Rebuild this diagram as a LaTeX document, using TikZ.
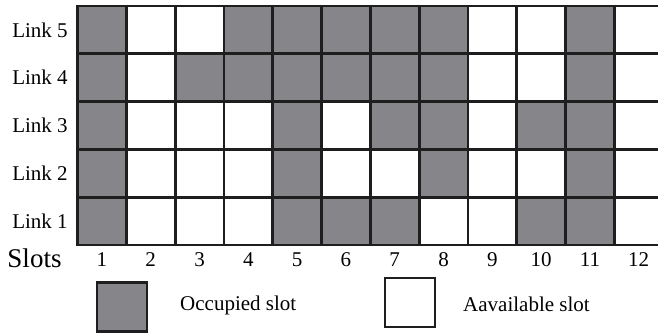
\documentclass[tikz,border=0pt]{standalone}
\usepackage{fontspec}
\setmainfont{Liberation Serif}
\definecolor{occ}{RGB}{134,134,138}
\definecolor{lin}{RGB}{30,30,30}
\begin{document}
\begin{tikzpicture}[x=1pt,y=-1pt,
  cell/.style={draw=lin, line width=2.8pt, minimum width=48.8pt, minimum height=47.8pt, inner sep=0pt, outer sep=0pt},
  occupied/.style={cell, fill=occ},
  freecell/.style={cell, fill=white},
  lbl/.style={font=\fontsize{21}{24}\selectfont, inner sep=0pt},
  biglbl/.style={font=\fontsize{27}{30}\selectfont, inner sep=0pt},
  legbox/.style={draw=lin, line width=2.8pt, minimum width=50pt, minimum height=49pt, inner sep=0pt}]
\useasboundingbox (0,0) rectangle (658,334);
\clip (0,0) rectangle (658,334);
\fill[white] (0,0) rectangle (658,334);
\foreach \r/\pat in {5/{1,0,0,1,1,1,1,1,0,0,1,0},
                     4/{1,0,1,1,1,1,1,1,0,0,1,0},
                     3/{1,0,0,0,1,0,1,1,0,1,1,0},
                     2/{1,0,0,0,1,0,0,1,0,0,1,0},
                     1/{1,0,0,0,1,1,1,0,0,1,1,0}} {
  \node[lbl] (link\r) at (40, {6+(5-\r+0.5)*47.8}) {Link \r};
  \foreach \v [count=\c] in \pat {
    \ifnum\v=1
      \node[occupied] (cell-\r-\c) at ({77.5+(\c-0.5)*48.8}, {6+(5-\r+0.5)*47.8}) {};
    \else
      \node[freecell] (cell-\r-\c) at ({77.5+(\c-0.5)*48.8}, {6+(5-\r+0.5)*47.8}) {};
    \fi
  }
}
\foreach \c in {1,...,12} {
  \node[lbl] (num\c) at ({77.5+(\c-0.5)*48.8}, 260) {\c};
}
\node[biglbl] (slots) at (34.5, 258.5) {Slots};
\node[legbox, fill=occ] (legocc) at (122, 307) {};
\node[lbl, anchor=west] (legocctxt) at (180, 305) {Occupied slot};
\node[legbox, fill=white] (legfree) at (410, 302.5) {};
\node[lbl, anchor=west] (legfreetxt) at (463, 304) {Aavailable slot};
\end{tikzpicture}
\end{document}
